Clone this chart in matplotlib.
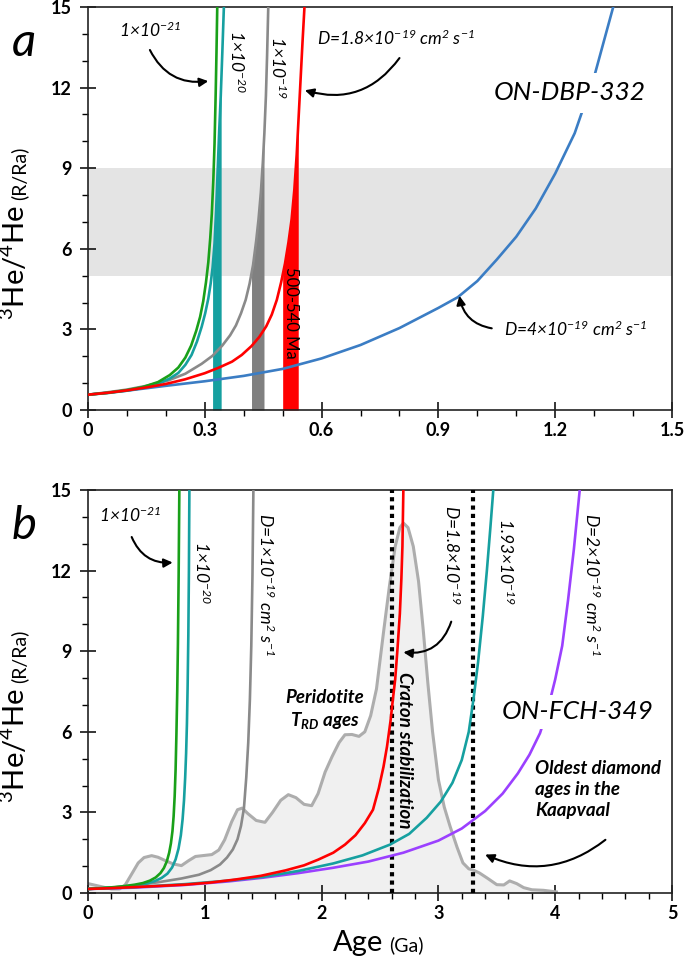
import numpy as np
import matplotlib
matplotlib.use("Agg")
import matplotlib.pyplot as plt
from matplotlib.ticker import MultipleLocator, FuncFormatter

plt.rcParams['font.family'] = ['Lato', 'DejaVu Sans']
plt.rcParams['mathtext.default'] = 'regular'

# ---------------- panel a data (ON-DBP-332) ----------------
green_a_x = [0, 0.05, 0.10, 0.14, 0.18, 0.21, 0.232, 0.25, 0.265, 0.278, 0.288, 0.296, 0.303,
             0.309, 0.314, 0.318, 0.322, 0.325, 0.328, 0.330, 0.332]
green_a_y = [0.57, 0.64, 0.74, 0.85, 1.04, 1.30, 1.58, 1.95, 2.4, 2.95, 3.47, 4.05, 4.75,
             5.5, 6.4, 7.3, 8.6, 9.9, 11.8, 13.3, 15.0]

teal_a_x = [0, 0.05, 0.10, 0.14, 0.18, 0.21, 0.232, 0.25, 0.266, 0.28, 0.292, 0.301, 0.309,
            0.315, 0.32, 0.325, 0.329, 0.333, 0.337, 0.341, 0.345, 0.349]
teal_a_y = [0.57, 0.63, 0.72, 0.82, 0.98, 1.17, 1.38, 1.68, 2.05, 2.55, 3.1, 3.6, 4.15,
            4.7, 5.3, 6.2, 7.4, 8.9, 10.4, 11.7, 13.3, 15.0]

gray_a_x = [0, 0.05, 0.10, 0.15, 0.206, 0.25, 0.292, 0.32, 0.345, 0.365, 0.38, 0.393, 0.405,
            0.415, 0.424, 0.432, 0.438, 0.444, 0.449, 0.453, 0.457, 0.460, 0.463]
gray_a_y = [0.57, 0.66, 0.76, 0.9, 1.1, 1.35, 1.72, 2.02, 2.4, 2.78, 3.15, 3.6, 4.1,
            4.7, 5.4, 6.3, 7.1, 8.1, 9.2, 10.3, 11.7, 13.2, 15.0]

red_a_x = [0, 0.05, 0.10, 0.15, 0.2, 0.249, 0.3, 0.335, 0.37, 0.395, 0.42, 0.44, 0.458,
           0.472, 0.485, 0.496, 0.506, 0.515, 0.523, 0.53, 0.536, 0.541, 0.546, 0.551, 0.556]
red_a_y = [0.57, 0.64, 0.73, 0.84, 0.97, 1.14, 1.37, 1.57, 1.8, 2.05, 2.38, 2.72, 3.12,
           3.55, 4.1, 4.75, 5.45, 6.25, 7.1, 8.2, 9.5, 10.9, 12.3, 13.7, 15.0]

blue_a_x = [0, 0.1, 0.2, 0.3, 0.4, 0.5, 0.6, 0.7, 0.8, 0.9, 0.95, 1.0, 1.05, 1.1, 1.15,
            1.2, 1.25, 1.3, 1.349]
blue_a_y = [0.57, 0.72, 0.9, 1.07, 1.27, 1.53, 1.92, 2.42, 3.05, 3.8, 4.2, 4.8, 5.6, 6.45, 7.5,
            8.8, 10.3, 12.4, 15.0]

band_a = [5, 9]
bars_a = [(0.32, 0.342), (0.42, 0.452), (0.50, 0.54)]

# ---------------- panel b data (ON-FCH-349) ----------------
green_b_x = [0, 0.1, 0.2, 0.3, 0.4, 0.47, 0.53, 0.58, 0.62, 0.65, 0.675, 0.695, 0.71, 0.723,
             0.733, 0.742, 0.75, 0.757, 0.764, 0.77, 0.776, 0.782]
green_b_y = [0.15, 0.18, 0.21, 0.25, 0.31, 0.37, 0.46, 0.58, 0.74, 0.93, 1.18, 1.5, 1.85, 2.3,
             2.85, 3.6, 4.6, 5.9, 7.5, 9.3, 11.8, 15.0]

teal1_b_x = [0, 0.1, 0.2, 0.3, 0.4, 0.5, 0.57, 0.63, 0.68, 0.72, 0.75, 0.775, 0.795, 0.81,
             0.822, 0.832, 0.84, 0.847, 0.853, 0.859, 0.864, 0.868]
teal1_b_y = [0.15, 0.17, 0.2, 0.23, 0.28, 0.35, 0.44, 0.56, 0.72, 0.95, 1.25, 1.65, 2.15, 2.75,
             3.45, 4.3, 5.2, 6.3, 7.7, 9.6, 12.0, 15.0]

gray_b_x = [0, 0.2, 0.4, 0.6, 0.8, 0.95, 1.05, 1.13, 1.19, 1.24, 1.28, 1.31, 1.335, 1.355,
            1.372, 1.386, 1.398, 1.408, 1.416]
gray_b_y = [0.15, 0.2, 0.28, 0.4, 0.54, 0.68, 0.85, 1.06, 1.32, 1.62, 2.0, 2.5, 3.15, 4.3,
            5.6, 7.2, 9.2, 11.8, 15.0]

red_b_x = [0, 0.2, 0.4, 0.6, 0.83, 1.05, 1.26, 1.48, 1.69, 1.85, 1.97, 2.1, 2.2, 2.29, 2.37,
           2.44, 2.49, 2.53, 2.56, 2.59, 2.61, 2.63, 2.65, 2.67, 2.683, 2.692, 2.70]
red_b_y = [0.15, 0.18, 0.22, 0.26, 0.31, 0.39, 0.5, 0.64, 0.84, 1.03, 1.24, 1.5, 1.8, 2.15, 2.6,
           3.1, 3.9, 4.7, 5.45, 6.4, 7.2, 7.95, 9.1, 10.4, 11.7, 12.9, 15.0]

teal2_b_x = [0, 0.4, 0.83, 1.2, 1.5, 1.8, 2.1, 2.35, 2.585, 2.75, 2.9, 3.02, 3.12, 3.2, 3.26,
             3.3, 3.34, 3.38, 3.415, 3.445, 3.47]
teal2_b_y = [0.15, 0.22, 0.33, 0.46, 0.6, 0.82, 1.1, 1.4, 1.8, 2.2, 2.8, 3.4, 4.1, 4.95, 6.0,
             7.2, 8.6, 10.3, 12.0, 13.6, 15.0]

purple_b_x = [0, 0.4, 0.83, 1.2, 1.5, 1.8, 2.1, 2.4, 2.7, 3.0, 3.2, 3.4, 3.55, 3.68, 3.78,
              3.87, 3.94, 4.0, 4.06, 4.11, 4.16, 4.21]
purple_b_y = [0.15, 0.2, 0.3, 0.43, 0.57, 0.74, 0.94, 1.17, 1.5, 1.95, 2.4, 3.05, 3.7, 4.45,
              5.15, 5.95, 6.9, 7.95, 9.2, 10.9, 12.8, 15.0]

# peridotite T_RD age distribution
dens_x = [0, 0.1, 0.2, 0.27, 0.32, 0.38, 0.43, 0.48, 0.545, 0.6, 0.66, 0.73, 0.80, 0.86, 0.92,
          1.0, 1.06, 1.12, 1.17, 1.23, 1.28, 1.32, 1.37, 1.44, 1.515, 1.58, 1.65, 1.715, 1.78,
          1.85, 1.915, 1.97, 2.03, 2.09, 2.15, 2.2, 2.26, 2.32, 2.37, 2.42, 2.47, 2.53, 2.58,
          2.63, 2.67, 2.70, 2.74, 2.785, 2.83, 2.87, 2.91, 2.95, 3.0, 3.05, 3.10, 3.16, 3.21,
          3.26, 3.3, 3.35, 3.42, 3.5, 3.56, 3.61, 3.67, 3.73, 3.8, 3.9, 4.01]
dens_y = [0.35, 0.25, 0.15, 0.15, 0.31, 0.75, 1.12, 1.32, 1.39, 1.33, 1.21, 1.08, 1.02, 1.2,
          1.36, 1.4, 1.43, 1.6, 1.98, 2.65, 3.1, 3.16, 2.95, 2.7, 2.63, 3.0, 3.45, 3.66, 3.55,
          3.3, 3.25, 3.7, 4.5, 5.08, 5.6, 5.89, 5.9, 5.83, 6.0, 6.6, 7.6, 9.7, 11.4, 12.9,
          13.6, 13.77, 13.6, 12.9, 11.6, 9.8, 7.8, 6.0, 4.22, 3.2, 2.48, 1.7, 1.12, 0.9, 0.85,
          0.75, 0.55, 0.31, 0.3, 0.45, 0.35, 0.2, 0.12, 0.1, 0.04]

craton_ages = [2.6, 3.3]

GREEN = '#19a019'
TEAL = '#16a0a0'
GRAY = '#8a8a8a'
RED = '#ff0000'
BLUE = '#3b7dc4'
PURPLE = '#9b40ff'
LW = 1.9

fig = plt.figure(figsize=(6.85, 9.61), dpi=100)
ax_a = fig.add_axes([88 / 685, 1 - 410 / 961, 584 / 685, 403 / 961])
ax_b = fig.add_axes([88 / 685, 1 - 893 / 961, 584 / 685, 403 / 961])


def style_axes(ax, xmax, xmajor, xminor):
    ax.set_xlim(0, xmax)
    ax.set_ylim(0, 15)
    ax.xaxis.set_major_locator(MultipleLocator(xmajor))
    ax.xaxis.set_minor_locator(MultipleLocator(xminor))
    ax.yaxis.set_major_locator(MultipleLocator(3))
    ax.yaxis.set_minor_locator(MultipleLocator(1))
    ax.tick_params(which='major', direction='inout', length=11, width=1.1,
                   labelsize=13, top=False, right=False)
    ax.tick_params(which='minor', direction='out', length=4.5, width=1.0,
                   top=False, right=False)
    ax.tick_params(axis='x', which='major', pad=3)
    ax.tick_params(axis='y', which='major', pad=6)
    for sp in ax.spines.values():
        sp.set_linewidth(1.2)
        sp.set_color('#222222')


def bold_ticks(ax):
    for lab in ax.get_xticklabels() + ax.get_yticklabels():
        lab.set_fontweight('bold')


def fill_under(ax, cx, cy, lo, hi, color):
    xs = np.linspace(lo, hi, 80)
    ys = np.minimum(np.interp(xs, cx, cy), 15)
    ax.fill_between(xs, 0, ys, color=color, lw=0, zorder=2)


ARROW = dict(arrowstyle='-|>', color='black', lw=1.5, mutation_scale=13,
             shrinkA=0, shrinkB=0)

# ---------------- panel a ----------------
ax = ax_a
style_axes(ax, 1.5, 0.3, 0.1)
ax.xaxis.set_major_formatter(FuncFormatter(lambda v, p: '0' if v == 0 else f'{v:.1f}'))
ax.axhspan(band_a[0], band_a[1], color='#e4e4e4', lw=0, zorder=0)
fill_under(ax, teal_a_x, teal_a_y, bars_a[0][0], bars_a[0][1], TEAL)
fill_under(ax, gray_a_x, gray_a_y, bars_a[1][0], bars_a[1][1], '#808080')
fill_under(ax, red_a_x, red_a_y, bars_a[2][0], bars_a[2][1], RED)

ax.plot(blue_a_x, blue_a_y, color=BLUE, lw=LW, zorder=3)
ax.plot(gray_a_x, gray_a_y, color=GRAY, lw=LW, zorder=3)
ax.plot(teal_a_x, teal_a_y, color=TEAL, lw=LW, zorder=3)
ax.plot(green_a_x, green_a_y, color=GREEN, lw=LW, zorder=3)
ax.plot(red_a_x, red_a_y, color=RED, lw=LW, zorder=3)

ax.text(0.159, 14.15, '1×10$^{-21}$', style='italic', fontsize=12.5, ha='center', va='center')
ax.annotate('', xy=(0.309, 12.24), xytext=(0.159, 13.4),
            arrowprops=dict(ARROW, connectionstyle='arc3,rad=0.35'))
ax.text(0.383, 12.95, '1×10$^{-20}$', style='italic', fontsize=12.5, rotation=-90,
        ha='center', va='center')
ax.text(0.488, 12.75, '1×10$^{-19}$', style='italic', fontsize=12.5, rotation=-90,
        ha='center', va='center')
ax.text(0.79, 13.84, 'D=1.8×10$^{-19}$ cm$^{2}$ s$^{-1}$', style='italic', fontsize=12.5,
        ha='center', va='center')
ax.annotate('', xy=(0.557, 11.9), xytext=(0.80, 13.1),
            arrowprops=dict(ARROW, connectionstyle='arc3,rad=-0.35'))
ax.text(1.236, 11.8, 'ON-DBP-332', style='italic', fontsize=19, ha='center', va='center',
        bbox=dict(facecolor='white', edgecolor='none', pad=6), zorder=4)
ax.text(0.521, 3.6, '500-540 Ma', fontsize=12, rotation=-90, ha='center', va='center', zorder=5)
ax.text(1.254, 3.0, 'D=4×10$^{-19}$ cm$^{2}$ s$^{-1}$', style='italic', fontsize=12.5,
        ha='center', va='center')
ax.annotate('', xy=(0.954, 4.25), xytext=(1.037, 3.04),
            arrowprops=dict(ARROW, connectionstyle='arc3,rad=-0.35'))
bold_ticks(ax)

# ---------------- panel b ----------------
ax = ax_b
style_axes(ax, 5, 1, 0.2)
ax.fill_between(dens_x, 0, dens_y, color='#f0f0f0', lw=0, zorder=1)
ax.plot(dens_x, dens_y, color='#adadad', lw=2.2, zorder=2)
for age in craton_ages:
    ax.axvline(age, color='black', lw=3, linestyle=(0, (1, 1)), zorder=3)

ax.plot(purple_b_x, purple_b_y, color=PURPLE, lw=LW, zorder=4)
ax.plot(teal2_b_x, teal2_b_y, color=TEAL, lw=LW, zorder=4)
ax.plot(gray_b_x, gray_b_y, color=GRAY, lw=LW, zorder=4)
ax.plot(teal1_b_x, teal1_b_y, color=TEAL, lw=LW, zorder=4)
ax.plot(green_b_x, green_b_y, color=GREEN, lw=LW, zorder=4)
ax.plot(red_b_x, red_b_y, color=RED, lw=LW, zorder=4)

ax.text(0.36, 14.05, '1×10$^{-21}$', style='italic', fontsize=12.5, ha='center', va='center')
ax.annotate('', xy=(0.725, 12.3), xytext=(0.374, 13.25),
            arrowprops=dict(ARROW, connectionstyle='arc3,rad=0.35'))
ax.text(0.976, 11.93, '1×10$^{-20}$', style='italic', fontsize=12.5, rotation=-90,
        ha='center', va='center')
ax.text(1.524, 11.47, 'D=1×10$^{-19}$ cm$^{2}$ s$^{-1}$', style='italic', fontsize=12.5,
        rotation=-90, ha='center', va='center')
ax.text(3.116, 12.59, 'D=1.8×10$^{-19}$', style='italic', fontsize=12.5, rotation=-90,
        ha='center', va='center')
ax.annotate('', xy=(2.70, 8.96), xytext=(3.11, 10.1),
            arrowprops=dict(ARROW, connectionstyle='arc3,rad=-0.4'))
ax.text(3.58, 12.33, '1.93×10$^{-19}$', style='italic', fontsize=12.5, rotation=-90,
        ha='center', va='center')
ax.text(4.315, 11.47, 'D=2×10$^{-19}$ cm$^{2}$ s$^{-1}$', style='italic', fontsize=12.5,
        rotation=-90, ha='center', va='center')
ax.text(2.03, 6.8, 'Peridotite\nT$_{RD}$ ages', style='italic', fontweight='bold',
        fontsize=13.5, ha='center', va='center', linespacing=1.25, zorder=5)
ax.text(2.706, 5.33, 'Craton stabilization', style='italic', fontweight='bold', fontsize=13.5,
        rotation=-90, ha='center', va='center', zorder=5)
ax.text(4.195, 6.75, 'ON-FCH-349', style='italic', fontsize=19, ha='center', va='center',
        bbox=dict(facecolor='white', edgecolor='none', pad=4), zorder=5)
ax.text(3.83, 4.95, 'Oldest diamond\nages in the\nKaapvaal', style='italic',
        fontweight='bold', fontsize=13.5, ha='left', va='top', linespacing=1.3, zorder=5)
ax.annotate('', xy=(3.40, 1.43), xytext=(4.43, 1.98),
            arrowprops=dict(ARROW, connectionstyle='arc3,rad=-0.3'))
bold_ticks(ax)

# panel letters
fig.text(24 / 685, 1 - 43 / 961, 'a', style='italic', fontsize=34, ha='center', va='center')
fig.text(24 / 685, 1 - 526 / 961, 'b', style='italic', fontsize=34, ha='center', va='center')

# axis labels: large and small parts joined
fig.canvas.draw()
renderer = fig.canvas.get_renderer()
W, H = fig.bbox.width, fig.bbox.height


def ylabel(py_start):
    t = fig.text(25 / W, 1 - py_start / H, '$^{3}$He/$^{4}$He', fontsize=21, rotation=90,
                 rotation_mode='anchor', ha='left', va='baseline')
    bb = t.get_window_extent(renderer)
    fig.text(25 / W, (bb.y1 + 5) / H, '(R/Ra)', fontsize=14, rotation=90,
             rotation_mode='anchor', ha='left', va='baseline')


ylabel(320)
ylabel(803)

t = fig.text(333 / W, 1 - 951 / H, 'Age', fontsize=21, ha='left', va='baseline')
bb = t.get_window_extent(renderer)
fig.text((bb.x1 + 6) / W, 1 - 951 / H, '(Ga)', fontsize=14, ha='left', va='baseline')

fig.savefig('out.png', dpi=100)
